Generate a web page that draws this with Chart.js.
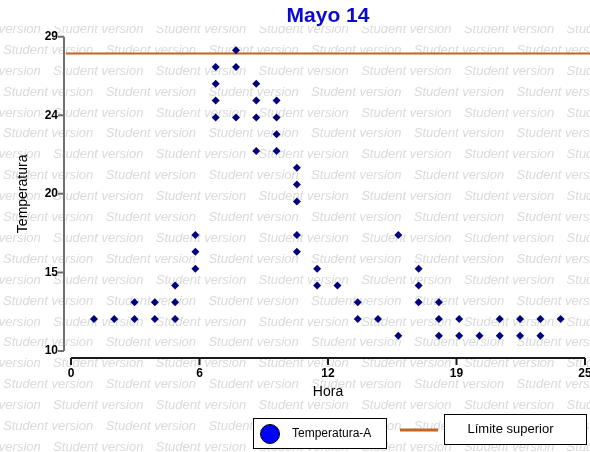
<!DOCTYPE html>
<html>
<head>
<meta charset="utf-8">
<title>Mayo 14</title>
<script src="https://cdn.jsdelivr.net/npm/chart.js@4.4.0/dist/chart.umd.min.js"></script>
<style>
	body { margin: 0; background: #fff; }
	#wrap { width: 590px; height: 452px; }
</style>
</head>
<body>
<div id="wrap"><canvas id="mycanvas" width="590" height="452"></canvas></div>
<script>
// lecturas por hora (una entrada por punto)
var hora = [1, 2, 3, 3, 4, 4, 5, 5, 5, 6, 6, 6,
	7, 7, 7, 7, 8, 8, 8, 9, 9, 9, 9, 10, 10, 10, 10,
	11, 11, 11, 11, 11, 12, 12, 13, 14, 14, 15, 16, 16,
	17, 17, 17, 18, 18, 18, 19, 19, 20, 21, 21, 22, 22, 23, 23, 24];
var temperatura = [12, 12, 13, 12, 13, 12, 14, 13, 12, 17, 16, 15,
	27, 26, 25, 24, 28, 27, 24, 26, 25, 24, 22, 25, 24, 23, 22,
	21, 20, 19, 17, 16, 15, 14, 14, 13, 12, 12, 17, 11,
	15, 14, 13, 13, 12, 11, 12, 11, 11, 12, 11, 12, 11, 12, 11, 12];
var limiteSuperior = 27.8;

var xTickLabels = ['0', '6', '12', '19', '25'];
var yTickLabels = ['10', '15', '20', '24', '29'];
var xMin = -0.13, xMax = 25.2;
var yMin = 10.1, yMax = 28.8;

var fuente = "'Liberation Sans', Arial, sans-serif";

var puntos = [];
for (var i in hora) {
	puntos.push({x: hora[i], y: temperatura[i]});
}

function evenTicks(min, max) {
	var t = [];
	for (var k = 0; k < 5; k++) t.push({value: min + k * (max - min) / 4});
	return t;
}

// fondo blanco + marca de agua
var fondo = {
	id: 'fondo',
	beforeDraw: function(chart) {
		var c = chart.ctx;
		c.save();
		c.fillStyle = '#fff';
		c.fillRect(0, 0, chart.width, chart.height);
		c.beginPath();
		c.rect(0, 26, chart.width, chart.height - 26);
		c.clip();
		c.font = 'italic 13px ' + fuente;
		c.fillStyle = '#dadada';
		c.textBaseline = 'middle';
		for (var r = 0; r < 21; r++) {
			var y = 29.3 + r * 20.9;
			var x0 = (r % 2 == 0) ? -49.6 : 3;
			for (var x = x0; x < chart.width; x += 102.7) {
				c.fillText('Student version', x, y);
			}
		}
		c.restore();
	}
};

// ejes separados (estilo Prism)
var ejes = {
	id: 'ejes',
	beforeDatasetsDraw: function(chart) {
		var c = chart.ctx;
		var xs = chart.scales.x, ys = chart.scales.y;
		var a = chart.chartArea;
		c.save();
		// eje y
		var ax = a.left - 7;
		c.strokeStyle = '#707070';
		c.lineWidth = 2;
		c.beginPath();
		c.moveTo(ax, ys.getPixelForValue(yMax));
		c.lineTo(ax, ys.getPixelForValue(yMin));
		ys.ticks.forEach(function(t) {
			var py = ys.getPixelForValue(t.value);
			c.moveTo(ax - 6, py);
			c.lineTo(ax, py);
		});
		c.stroke();
		// eje x
		var ay = a.bottom + 7;
		c.strokeStyle = '#1a1a1a';
		c.beginPath();
		c.moveTo(xs.getPixelForValue(xMin), ay);
		c.lineTo(xs.getPixelForValue(xMax), ay);
		xs.ticks.forEach(function(t) {
			var px = xs.getPixelForValue(t.value);
			c.moveTo(px, ay);
			c.lineTo(px, ay + 7);
		});
		c.stroke();
		c.restore();
	}
};

var leyenda = {
	id: 'leyenda',
	afterDraw: function(chart) {
		var c = chart.ctx;
		c.save();
		c.lineWidth = 1;
		c.strokeStyle = '#000';
		c.fillStyle = '#fff';
		c.fillRect(253.5, 418.5, 133, 30);
		c.strokeRect(253.5, 418.5, 133, 30);
		c.beginPath();
		c.arc(270, 434, 9.5, 0, Math.PI * 2);
		c.fillStyle = '#0000ff';
		c.fill();
		c.stroke();
		c.fillStyle = '#000';
		c.font = '12px ' + fuente;
		c.textBaseline = 'middle';
		c.fillText('Temperatura-A', 292, 434);

		c.strokeStyle = '#c5651f';
		c.lineWidth = 3;
		c.beginPath();
		c.moveTo(400, 430);
		c.lineTo(438, 430);
		c.stroke();

		c.lineWidth = 1;
		c.strokeStyle = '#000';
		c.fillStyle = '#fff';
		c.fillRect(444.5, 414.5, 142, 30);
		c.strokeRect(444.5, 414.5, 142, 30);
		c.fillStyle = '#000';
		c.font = '13px ' + fuente;
		c.textAlign = 'center';
		c.fillText('Límite superior', 510.5, 429.5);
		c.restore();
	}
};

var ctx = document.getElementById('mycanvas');

var grafico = new Chart(ctx, {
	type: 'scatter',
	data: {
		datasets: [
			{
				label: 'Temperatura-A',
				data: puntos,
				pointStyle: 'rectRot',
				pointRadius: 4,
				pointHoverRadius: 4,
				backgroundColor: '#00007f',
				borderColor: '#00007f',
				borderWidth: 0
			},
			{
				type: 'line',
				label: 'Límite superior',
				data: [{x: -0.38, y: limiteSuperior}, {x: 25.46, y: limiteSuperior}],
				borderColor: '#c5651f',
				borderWidth: 2,
				pointRadius: 0,
				clip: false
			}
		]
	},
	options: {
		responsive: false,
		animation: false,
		events: [],
		layout: { padding: { left: 0, right: 5, top: 0, bottom: 41 } },
		plugins: {
			legend: { display: false },
			tooltip: { enabled: false },
			title: {
				display: true,
				text: 'Mayo 14',
				fullSize: false,
				color: '#0a0acd',
				font: { family: fuente, size: 21, weight: 'bold' },
				padding: { top: 4, bottom: 7.5 }
			}
		},
		scales: {
			x: {
				type: 'linear',
				min: xMin,
				max: xMax,
				afterBuildTicks: function(s) { s.ticks = evenTicks(xMin, xMax); },
				afterFit: function(s) { s.height = 60; s.paddingLeft = 0; s.paddingRight = 0; },
				grid: { display: false, drawTicks: false },
				border: { display: false },
				ticks: {
					padding: 15,
					color: '#000',
					font: { family: fuente, size: 12, weight: 'bold' },
					maxRotation: 0,
					callback: function(v, i) { return xTickLabels[i]; }
				},
				title: {
					display: true,
					text: 'Hora',
					color: '#000',
					font: { family: fuente, size: 14 },
					padding: { top: 0, bottom: 10 }
				}
			},
			y: {
				type: 'linear',
				min: yMin,
				max: yMax,
				afterBuildTicks: function(s) { s.ticks = evenTicks(yMin, yMax); },
				afterFit: function(s) { s.width = 71; s.paddingTop = 0; s.paddingBottom = 0; },
				grid: { display: false, drawTicks: false },
				border: { display: false },
				ticks: {
					padding: 13,
					color: '#000',
					font: { family: fuente, size: 12, weight: 'bold' },
					callback: function(v, i) { return yTickLabels[i]; }
				},
				title: {
					display: true,
					text: 'Temperatura',
					color: '#000',
					font: { family: fuente, size: 14 },
					padding: { top: 14.6, bottom: 0 }
				}
			}
		}
	},
	plugins: [fondo, ejes, leyenda]
});
</script>
</body>
</html>
